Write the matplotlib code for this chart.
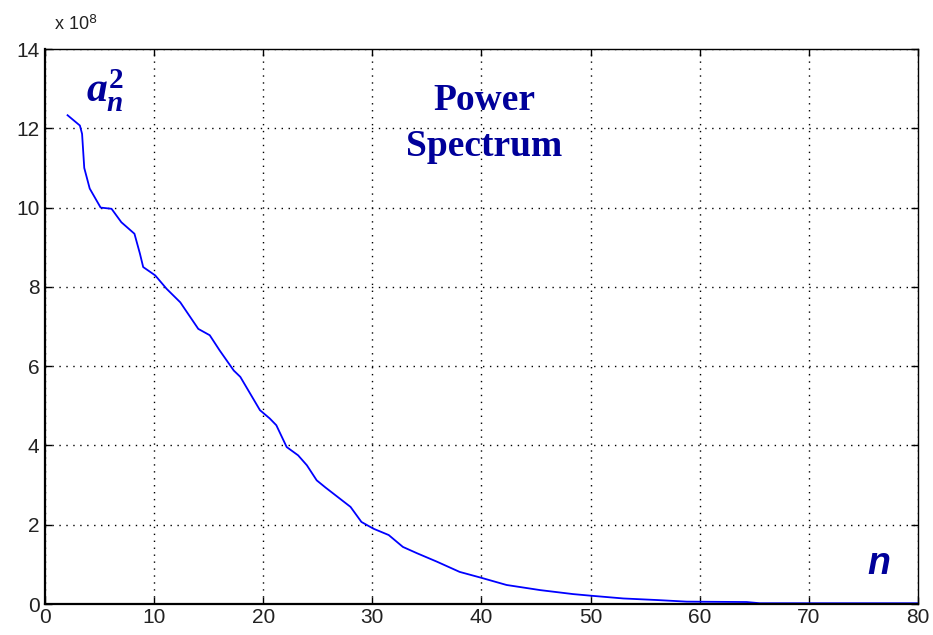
# Power spectrum, a_n^2 versus n

import matplotlib.pyplot as plt
import numpy as np

plt.rcParams['mathtext.fontset'] = 'custom'
plt.rcParams['mathtext.it'] = 'Liberation Serif:bold:italic'
plt.rcParams['mathtext.rm'] = 'Liberation Serif:bold'
plt.rcParams['mathtext.bf'] = 'Liberation Serif:bold'
plt.rcParams['font.family'] = ['Liberation Sans', 'DejaVu Sans']

# harmonic number n and power a_n^2 (units of 1e8)
n = [2.07, 3.2, 3.4, 3.6, 4.1, 5.1, 6.1, 7.0, 8.2, 8.7, 9.0, 10.1, 11.15,
     12.4, 14.05, 15.1, 16.0, 17.3, 17.9, 18.8, 19.7, 20.6, 21.2, 22.15,
     23.2, 24.0, 24.9, 25.7, 28.0, 29.0, 30.1, 31.5, 32.8, 34.1, 35.9,
     38.0, 40.0, 42.3, 45.4, 48.4, 50.0, 53.0, 56.1, 58.8, 64.3, 65.5,
     70.0, 75.0, 80.0]
power = [12.33, 12.07, 11.86, 11.0, 10.48, 10.0, 9.97, 9.63, 9.34, 8.84,
         8.5, 8.29, 7.95, 7.61, 6.94, 6.78, 6.40, 5.89, 5.73, 5.31, 4.89,
         4.68, 4.51, 3.96, 3.75, 3.50, 3.12, 2.94, 2.45, 2.07, 1.9, 1.74,
         1.44, 1.28, 1.07, 0.81, 0.66, 0.48, 0.35, 0.25, 0.21, 0.14, 0.10,
         0.06, 0.05, 0.02, 0.02, 0.02, 0.02]

xticks = np.arange(0, 81, 10)
yticks = np.arange(0, 15, 2)

navy = '#00009a'

fig = plt.figure(figsize=(9.33, 6.35), dpi=100)
ax = fig.add_axes([0.0482, 0.0488, 0.9357, 0.874])

ax.plot(n, power, color='#0000ff', lw=1.3)

ax.set_xlim(0, 80)
ax.set_ylim(0, 14)
ax.set_xticks(xticks)
ax.set_yticks(yticks)
ax.tick_params(direction='in', length=5, width=1, labelsize=15,
               labelcolor='#222222', top=True, right=True, pad=4)
ax.tick_params(axis='x', pad=3)
ax.grid(True, color='black', linestyle=(0, (1, 4)), linewidth=1.0)
for s in ['left', 'bottom']:
    ax.spines[s].set_linewidth(1.6)
for s in ['top', 'right']:
    ax.spines[s].set_linewidth(1.0)

fig.text(0.058, 0.952, r'x 10$^{\mathsf{8}}$', fontsize=13, color='#222222')

ax.text(0.047, 0.925, r'$a_n^2$', transform=ax.transAxes, fontsize=30,
        color=navy, ha='left', va='center')
ax.text(0.503, 0.866, 'Power\nSpectrum', transform=ax.transAxes,
        fontsize=27, color=navy, family='Liberation Serif',
        fontweight='bold', ha='center', va='center', linespacing=1.42)
ax.text(0.955, 0.072, 'n', transform=ax.transAxes, fontsize=27,
        color=navy, fontweight='bold', style='italic',
        ha='center', va='center')

fig.savefig('out.png', dpi=100)
